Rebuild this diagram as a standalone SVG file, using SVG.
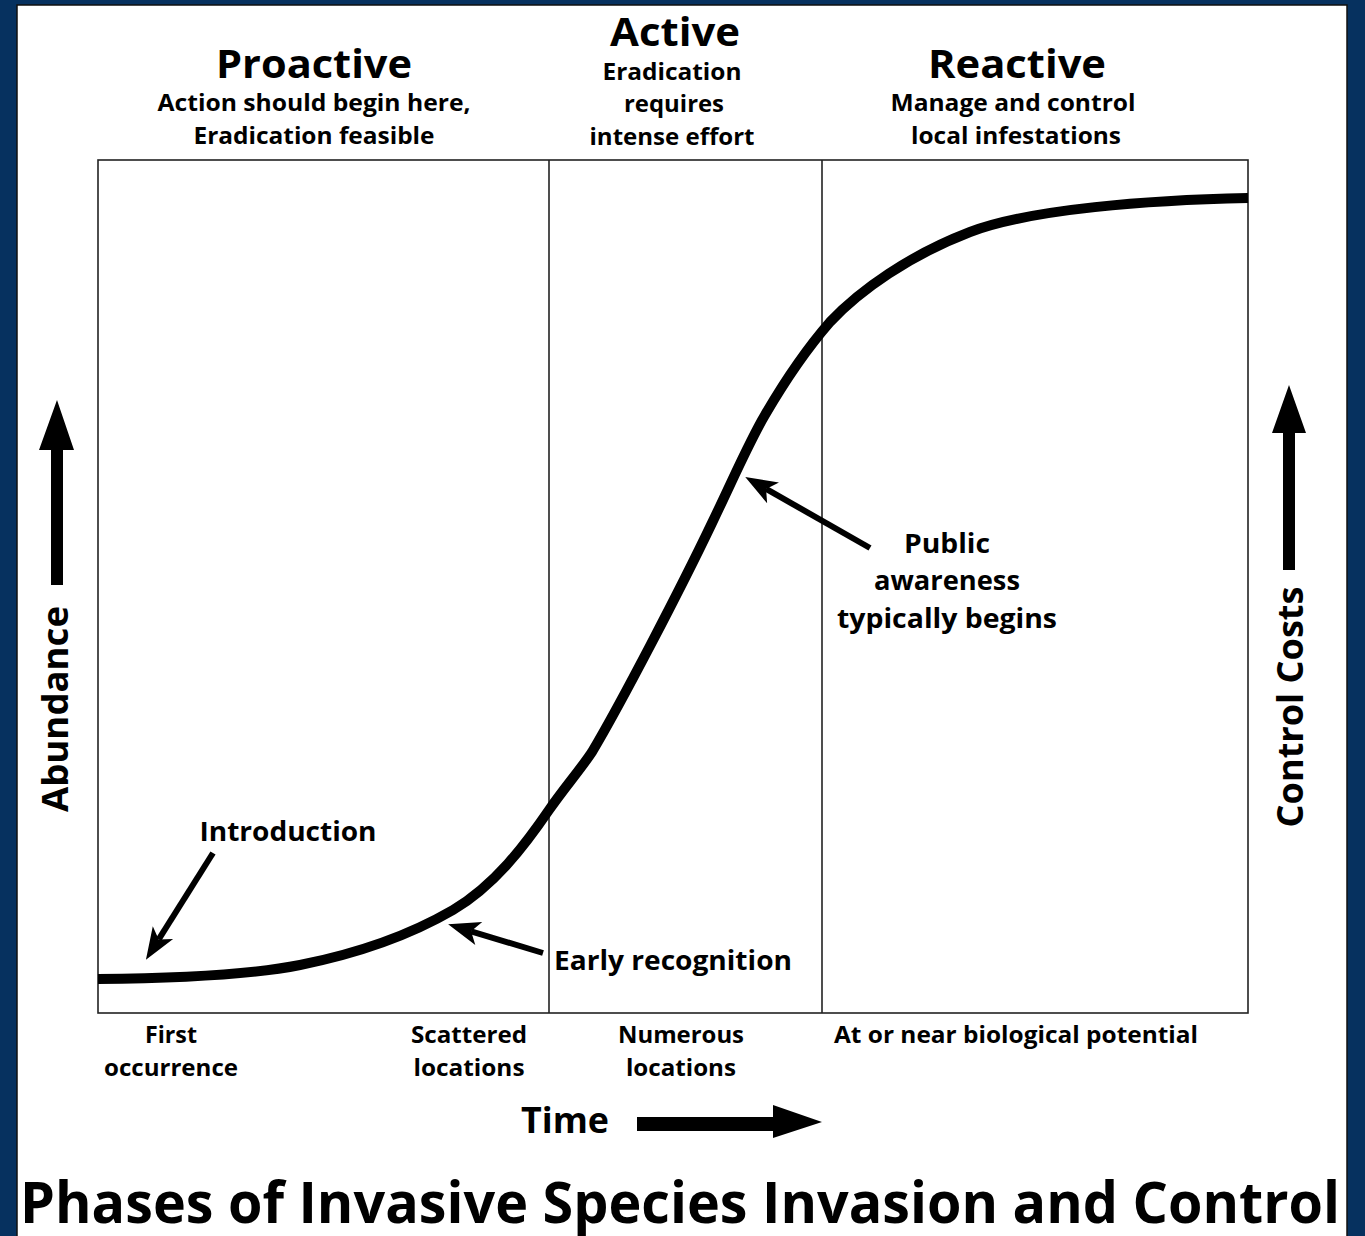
<svg xmlns="http://www.w3.org/2000/svg" width="1365" height="1236" viewBox="0 0 1365 1236">
<style>
text{font-family:"Open Sans","Liberation Sans",sans-serif;font-weight:700;fill:#000;text-anchor:middle}
.h1{font-size:40px}
.h2{font-size:24px}
.lab{font-size:26px}
.bot{font-size:24px}
.ax{font-size:36px}
.div{stroke:#222;stroke-width:1.6;fill:none}
.ptr{stroke:#000;stroke-width:6;fill:none}
</style>
<defs>
<marker id="head" markerUnits="userSpaceOnUse" markerWidth="40" markerHeight="30" viewBox="-10 -15 40 30" refX="0" refY="0" orient="auto" overflow="visible">
<path d="M24,0 L-8,-12 L0,0 L-8,12 Z" fill="#000"/>
</marker>
</defs>
<rect x="0" y="0" width="1365" height="1236" fill="#06315f"/>
<rect x="17" y="5" width="1330" height="1240" fill="#fff" stroke="#111" stroke-width="1.5"/>

<g id="chart-frame">
<rect x="98" y="160" width="1150" height="853" class="div"/>
<line x1="549" y1="160" x2="549" y2="1013" class="div"/>
<line x1="822" y1="160" x2="822" y2="1013" class="div"/>
</g>

<g id="curve">
<path d="M98,979 C200,978 260,973 300,965 C360,953 410,935 453,910 C495,885 525,845 549,810 C565,787 580,770 592,752 C620,705 680,590 712,523 C735,475 750,440 765,415 C790,372 810,345 830,322 C860,290 910,255 970,232 C1030,209 1150,200 1248,198" fill="none" stroke="#000" stroke-width="10"/>
</g>

<g id="phase-proactive">
<text class="h1" x="314" y="78" textLength="196" lengthAdjust="spacingAndGlyphs">Proactive</text>
<text class="h2" x="314" y="111" textLength="313" lengthAdjust="spacingAndGlyphs">Action should begin here,</text>
<text class="h2" x="314" y="144" textLength="241" lengthAdjust="spacingAndGlyphs">Eradication feasible</text>
</g>
<g id="phase-active">
<text class="h1" x="675" y="46" textLength="130" lengthAdjust="spacingAndGlyphs">Active</text>
<text class="h2" x="672" y="80" textLength="139" lengthAdjust="spacingAndGlyphs">Eradication</text>
<text class="h2" x="674" y="112" textLength="100" lengthAdjust="spacingAndGlyphs">requires</text>
<text class="h2" x="672" y="145" textLength="165" lengthAdjust="spacingAndGlyphs">intense effort</text>
</g>
<g id="phase-reactive">
<text class="h1" x="1017" y="78" textLength="178" lengthAdjust="spacingAndGlyphs">Reactive</text>
<text class="h2" x="1013" y="111" textLength="245" lengthAdjust="spacingAndGlyphs">Manage and control</text>
<text class="h2" x="1016" y="144" textLength="210" lengthAdjust="spacingAndGlyphs">local infestations</text>
</g>

<g id="label-introduction">
<text class="lab" x="288" y="841" textLength="177" lengthAdjust="spacingAndGlyphs">Introduction</text>
</g>
<g id="label-early">
<text class="lab" x="673" y="970" textLength="238" lengthAdjust="spacingAndGlyphs">Early recognition</text>
</g>
<g id="label-public">
<text class="lab" x="947" y="553" textLength="86" lengthAdjust="spacingAndGlyphs">Public</text>
<text class="lab" x="947" y="590" textLength="146" lengthAdjust="spacingAndGlyphs">awareness</text>
<text class="lab" x="947" y="628" textLength="220" lengthAdjust="spacingAndGlyphs">typically begins</text>
</g>

<g id="connectors">
<line class="ptr" x1="213" y1="853" x2="158.7" y2="939.4" marker-end="url(#head)"/>
<line class="ptr" x1="543" y1="953" x2="471.1" y2="931.3" marker-end="url(#head)"/>
<line class="ptr" x1="870" y1="548" x2="766.1" y2="488.9" marker-end="url(#head)"/>
</g>

<g id="x-labels">
<text class="bot" x="171" y="1043" textLength="52" lengthAdjust="spacingAndGlyphs">First</text>
<text class="bot" x="171" y="1076" textLength="134" lengthAdjust="spacingAndGlyphs">occurrence</text>
<text class="bot" x="469" y="1043" textLength="116" lengthAdjust="spacingAndGlyphs">Scattered</text>
<text class="bot" x="469" y="1076" textLength="111" lengthAdjust="spacingAndGlyphs">locations</text>
<text class="bot" x="681" y="1043" textLength="126" lengthAdjust="spacingAndGlyphs">Numerous</text>
<text class="bot" x="681" y="1076" textLength="110" lengthAdjust="spacingAndGlyphs">locations</text>
<text class="bot" x="1016" y="1043" textLength="364" lengthAdjust="spacingAndGlyphs">At or near biological potential</text>
</g>

<g id="axis-time">
<text class="ax" x="565" y="1133" textLength="88" lengthAdjust="spacingAndGlyphs">Time</text>
<polygon points="637,1117 773,1117 773,1105 822,1122 773,1138 773,1131 637,1131" fill="#000"/>
</g>
<g id="axis-abundance">
<text class="ax" transform="translate(68,709) rotate(-90)" x="0" y="0" textLength="206" lengthAdjust="spacingAndGlyphs">Abundance</text>
<polygon points="51,585 51,450 39,450 57,400 74,450 63,450 63,585" fill="#000"/>
</g>
<g id="axis-costs">
<text class="ax" transform="translate(1303,707) rotate(-90)" x="0" y="0" textLength="241" lengthAdjust="spacingAndGlyphs">Control Costs</text>
<polygon points="1283,570 1283,433 1272,433 1289,385 1306,433 1295,433 1295,570" fill="#000"/>
</g>

<g id="title">
<text x="680" y="1223" font-size="57" textLength="1320" lengthAdjust="spacingAndGlyphs">Phases of Invasive Species Invasion and Control</text>
</g>
</svg>
